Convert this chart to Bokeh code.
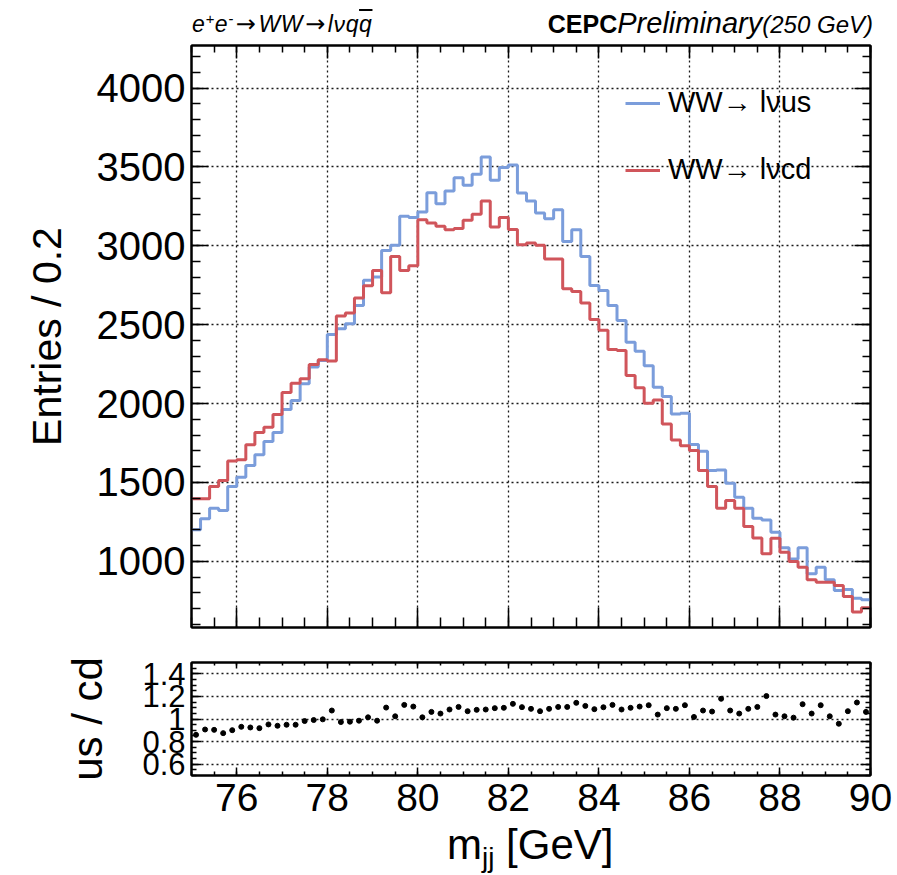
import numpy as np
from bokeh.plotting import figure
from bokeh.layouts import column
from bokeh.models import (Range1d, SingleIntervalTicker, LinearAxis, Legend,
                          LegendItem, CustomJSTickFormatter, Div)
from bokeh.embed import file_html
from bokeh.resources import INLINE

# ---------------- data ----------------
x_lo, x_hi, bin_width = 75.0, 90.0, 0.2

us_counts = [1200, 1269, 1336, 1322, 1474, 1533, 1607, 1675, 1759, 1816,
             1962, 2020, 2125, 2231, 2273, 2438, 2474, 2506, 2622, 2781,
             2802, 2971, 3003, 3187, 3179, 3214, 3337, 3267, 3348, 3432,
             3384, 3453, 3563, 3415, 3496, 3513, 3335, 3284, 3208, 3172,
             3229, 3028, 3102, 2933, 2749, 2717, 2622, 2527, 2389, 2332,
             2240, 2103, 2044, 1934, 1938, 1740, 1698, 1575, 1579, 1495,
             1406, 1336, 1273, 1262, 1184, 1085, 1015, 1085, 920, 962,
             882, 815, 821, 766, 756]

cd_counts = [1396, 1396, 1474, 1512, 1635, 1643, 1738, 1816, 1850, 1931,
             2070, 2129, 2157, 2248, 2278, 2269, 2555, 2574, 2669, 2747,
             2844, 2703, 2933, 2844, 2873, 3166, 3145, 3124, 3102, 3109,
             3162, 3200, 3284, 3119, 3179, 3104, 3007, 3018, 3003, 2916,
             2916, 2728, 2711, 2637, 2533, 2464, 2342, 2336, 2177, 2100,
             2002, 2023, 1871, 1769, 1733, 1702, 1575, 1474, 1336, 1385,
             1336, 1220, 1148, 1047, 1146, 1057, 998, 962, 882, 867,
             867, 846, 777, 678, 705]

ratio_us_cd = [0.860, 0.907, 0.904, 0.875, 0.901, 0.931, 0.925, 0.919, 0.952, 0.940,
               0.949, 0.949, 0.982, 0.991, 0.997, 1.075, 0.973, 0.976, 0.985, 1.015,
               0.985, 1.101, 1.024, 1.125, 1.110, 1.015, 1.063, 1.048, 1.084, 1.107,
               1.069, 1.081, 1.084, 1.096, 1.099, 1.134, 1.105, 1.090, 1.069, 1.090,
               1.107, 1.107, 1.143, 1.116, 1.087, 1.104, 1.125, 1.084, 1.099, 1.110,
               1.122, 1.039, 1.096, 1.090, 1.122, 1.018, 1.075, 1.066, 1.179, 1.075,
               1.048, 1.090, 1.107, 1.203, 1.039, 1.024, 1.012, 1.131, 1.048, 1.122,
               1.024, 0.958, 1.069, 1.146, 1.063]

legend_labels = ["WW\u2192 l\u03bdus", "WW\u2192 l\u03bdcd"]

n_bins = len(us_counts)
edges = x_lo + bin_width * np.arange(n_bins + 1)
centers = x_lo + bin_width * (np.arange(n_bins) + 0.5)

FONT = "Liberation Sans"
BLUE = "#7b9ddb"
RED = "#d0555b"
W = 897
BL, BR = 191, 27

empty_fmt = CustomJSTickFormatter(code="return ''")


def style_axis(ax, major_len, minor_len, label_size="1px"):
    ax.major_tick_in = major_len
    ax.major_tick_out = 0
    ax.minor_tick_in = minor_len
    ax.minor_tick_out = 0
    ax.axis_line_width = 2
    ax.axis_line_color = "black"
    ax.major_tick_line_width = 1.5
    ax.minor_tick_line_width = 1.5
    ax.major_tick_line_color = "black"
    ax.minor_tick_line_color = "black"
    ax.major_label_text_font = FONT
    ax.major_label_text_font_size = label_size
    ax.major_label_text_color = "black"
    ax.axis_label_text_color = "black"


# ---------------- header (HTML text) ----------------
ARROW = ('<span style="font-family:\'DejaVu Sans\',sans-serif;font-style:normal;'
         'font-size:24px;margin:0 2px;">\u2192</span>')
head_html = (
    '<div style="position:relative;width:897px;height:40px;color:black;'
    "font-family:'Liberation Sans',Arial,sans-serif;\">"
    '<span style="position:absolute;left:192px;top:13px;font-size:23px;'
    'line-height:23px;font-style:italic;white-space:nowrap;letter-spacing:0.6px;">'
    'e<span style="position:relative;top:-8px;font-size:15px;">+</span>'
    'e<span style="position:relative;top:-8px;font-size:15px;">-</span>'
    + ARROW + 'WW' + ARROW +
    'l\u03bdq<span style="text-decoration:overline;">q</span></span>'
    '<span style="position:absolute;right:24px;top:9px;font-size:28px;'
    'line-height:28px;white-space:nowrap;">'
    '<b style="font-size:25px;">CEPC</b>'
    '<i style="font-size:29px;">Preliminary</i>'
    '<i style="font-size:24px;">(250 GeV)</i></span>'
    '</div>'
)
head = Div(text=head_html, width=W, height=40, margin=0)

# ---------------- main panel ----------------
xr = Range1d(x_lo, x_hi)
p = figure(width=W, height=607, x_range=xr, y_range=Range1d(580, 4270),
           output_backend="svg", toolbar_location=None,
           min_border_left=BL, min_border_right=BR,
           min_border_top=5, min_border_bottom=20)
p.outline_line_color = "black"
p.outline_line_width = 2

xt = SingleIntervalTicker(interval=2, num_minor_ticks=4)
yt = SingleIntervalTicker(interval=500, num_minor_ticks=5)

xb = p.xaxis[0]
xb.ticker = xt
xb.formatter = empty_fmt
xb.major_label_standoff = 0
style_axis(xb, 20, 10)

yl = p.yaxis[0]
yl.ticker = yt
style_axis(yl, 17, 9, "40px")
yl.major_label_standoff = 6
yl.axis_label = "Entries / 0.2"
yl.axis_label_text_font = FONT
yl.axis_label_text_font_size = "41px"
yl.axis_label_text_font_style = "normal"
yl.axis_label_standoff = 24

xa = LinearAxis(ticker=xt, formatter=empty_fmt, major_label_standoff=0)
style_axis(xa, 13, 7)
p.add_layout(xa, "above")
yr = LinearAxis(ticker=yt, formatter=empty_fmt, major_label_standoff=0)
style_axis(yr, 16, 8)
p.add_layout(yr, "right")

p.xgrid.ticker = xt
p.ygrid.ticker = yt
p.grid.grid_line_color = "black"
p.grid.grid_line_dash = "2 3"
p.grid.grid_line_width = 1.3
p.grid.grid_line_alpha = 0.9

r_us = p.step(x=edges, y=us_counts + [us_counts[-1]], mode="after",
              line_color=BLUE, line_width=3)
r_cd = p.step(x=edges, y=cd_counts + [cd_counts[-1]], mode="after",
              line_color=RED, line_width=3)

legend = Legend(items=[LegendItem(label=legend_labels[0], renderers=[r_us]),
                       LegendItem(label=legend_labels[1], renderers=[r_cd])],
                location=(434, 441), orientation="vertical")
legend.border_line_color = None
legend.background_fill_alpha = 0
legend.padding = 0
legend.margin = 0
legend.spacing = 34
legend.glyph_width = 35
legend.glyph_height = 30
legend.label_height = 30
legend.label_standoff = 8
legend.label_text_font = FONT
legend.label_text_font_size = "29px"
legend.label_text_color = "black"
legend.label_text_baseline = "middle"
p.add_layout(legend)

# ---------------- ratio panel ----------------
p2 = figure(width=W, height=180, x_range=xr, y_range=Range1d(0.5, 1.5),
            output_backend="svg", toolbar_location=None,
            min_border_left=BL, min_border_right=BR,
            min_border_top=15, min_border_bottom=52)
p2.outline_line_color = "black"
p2.outline_line_width = 2

xt2 = SingleIntervalTicker(interval=2, num_minor_ticks=4)
yt2 = SingleIntervalTicker(interval=0.2, num_minor_ticks=4)

xb2 = p2.xaxis[0]
xb2.ticker = xt2
style_axis(xb2, 8, 4, "39px")
xb2.major_label_standoff = 8

yl2 = p2.yaxis[0]
yl2.ticker = yt2
yl2.formatter = CustomJSTickFormatter(
    code="var s = tick.toFixed(1); return s.endsWith('.0') ? s.slice(0, -2) : s;")
style_axis(yl2, 10, 5, "31px")
yl2.major_label_standoff = 6
yl2.axis_label = "us / cd"
yl2.axis_label_text_font = FONT
yl2.axis_label_text_font_size = "42px"
yl2.axis_label_text_font_style = "normal"
yl2.axis_label_standoff = 28

xa2 = LinearAxis(ticker=xt2, formatter=empty_fmt, major_label_standoff=0)
style_axis(xa2, 6, 3)
p2.add_layout(xa2, "above")
yr2 = LinearAxis(ticker=yt2, formatter=empty_fmt, major_label_standoff=0)
style_axis(yr2, 10, 5)
p2.add_layout(yr2, "right")

p2.xgrid.visible = False
p2.ygrid.ticker = yt2
p2.ygrid.grid_line_color = "black"
p2.ygrid.grid_line_dash = "2 3"
p2.ygrid.grid_line_width = 1.3
p2.ygrid.grid_line_alpha = 0.9

p2.scatter(x=centers, y=ratio_us_cd, size=5, color="black")

# ---------------- footer: x-axis title (HTML text) ----------------
foot_html = (
    '<div style="position:relative;width:897px;height:48px;color:black;'
    "font-family:'Liberation Sans',Arial,sans-serif;\">"
    '<span style="position:absolute;left:447px;top:-3px;font-size:42px;'
    'line-height:42px;white-space:nowrap;">'
    'm<span style="position:relative;top:8px;font-size:28px;">jj</span>'
    '&nbsp;[GeV]</span>'
    '</div>'
)
foot = Div(text=foot_html, width=W, height=48, margin=0)

layout = column(head, p, p2, foot, spacing=0)
open("out.html", "w").write(file_html(layout, INLINE))
